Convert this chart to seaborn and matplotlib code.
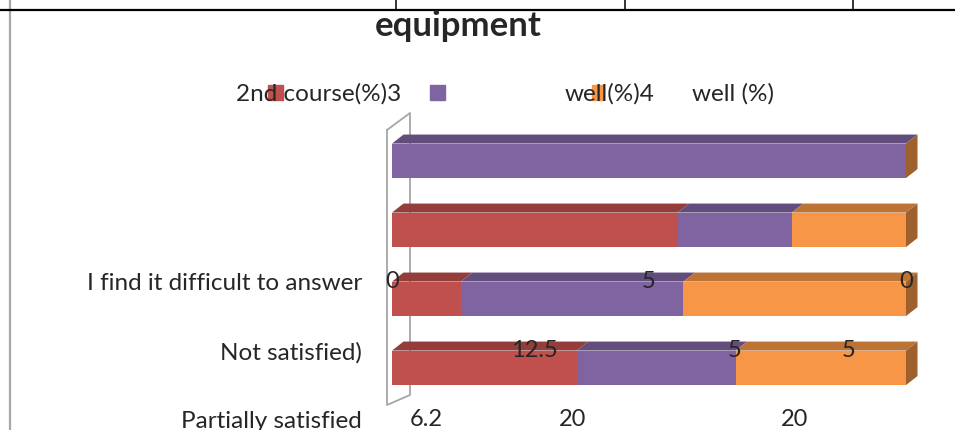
import matplotlib
matplotlib.use("Agg")
import matplotlib.pyplot as plt
from matplotlib.patches import Polygon, Rectangle
import pandas as pd
import seaborn as sns

# data (top bar first)
categories = ["I find it difficult to answer", "Not satisfied)", "Partially satisfied", "Satisfied"]
series_red = [0, 12.5, 6.2, 81.3]
series_purple = [5, 5, 20, 70]
series_orange = [0, 5, 20, 75]
legend_labels = ["2nd course(%)3", "well(%)4", "well (%)"]
title = "equipment"

RED, PURPLE, ORANGE = "#C0504D", "#8064A2", "#F79646"
RED_TOP, PURPLE_TOP, ORANGE_TOP = "#943D3B", "#634D7D", "#BE7336"
ORANGE_SIDE = "#9E602D"

sns.set_style("white")
plt.rcParams["font.family"] = ["Lato", "DejaVu Sans"]

W, H = 955, 430
fig = plt.figure(figsize=(W / 100, H / 100), dpi=100)

# background layer in pixel coords: table borders, chart wall, title, legend
bg = fig.add_axes([0, 0, 1, 1], zorder=0)
bg.set_xlim(0, W)
bg.set_ylim(H, 0)
bg.axis("off")

bg.plot([9.5, 9.5], [0, H], color="#A6A6A6", lw=1.6, clip_on=False)
bg.plot([0, W], [10, 10], color="black", lw=1.6, clip_on=False)
for xv in [396, 625, 853]:
    bg.plot([xv, xv], [0, 10], color="black", lw=1.1, clip_on=False)

# 3d wall on the left
bg.plot([387, 387, 410, 410, 387], [130, 405, 395, 113, 130], color="#A6A6A6", lw=1.3)

bg.text(458.5, 36, title, ha="center", va="baseline", fontsize=25, fontweight="bold")

bg.add_patch(Rectangle((268, 85), 15, 15, color=RED, zorder=1))
bg.add_patch(Rectangle((430, 85), 15, 15, color=PURPLE, zorder=1))
bg.add_patch(Rectangle((592, 85), 11, 15, color=ORANGE, zorder=1))
bg.text(236, 101, legend_labels[0], ha="left", va="baseline", fontsize=17.5, zorder=2)
bg.text(565, 101, legend_labels[1], ha="left", va="baseline", fontsize=17.5, zorder=2)
bg.text(692, 101, legend_labels[2], ha="left", va="baseline", fontsize=17.5, zorder=2)

# bars
df = pd.DataFrame({"red": series_red, "purple": series_purple, "orange": series_orange},
                  index=categories)
share = df.div(df.sum(axis=1), axis=0) * 100
cum = share.cumsum(axis=1)

ax = fig.add_axes([392 / W, 0, 514 / W, 320 / H], zorder=1)
ax.patch.set_alpha(0)

for col, color in [("orange", ORANGE), ("purple", PURPLE), ("red", RED)]:
    sns.barplot(x=cum[col].values, y=categories, orient="h", color=color, saturation=1,
                width=0.5, linewidth=0, errorbar=None, ax=ax)

unit_px = 69
dx = 11.5 / 5.14
dy = -9 / unit_px

# fake depth: top faces and the right side
tops = {"red": RED_TOP, "purple": PURPLE_TOP, "orange": ORANGE_TOP}
for i, cat in enumerate(categories):
    ytop, ybot = i - 0.25, i + 0.25
    left = 0
    for col in ["red", "purple", "orange"]:
        right = cum.loc[cat, col]
        if right > left:
            ax.add_patch(Polygon([(left, ytop), (right, ytop), (right + dx, ytop + dy),
                                  (left + dx, ytop + dy)], closed=True, color=tops[col],
                                 lw=0, clip_on=False))
        left = right
    ax.add_patch(Polygon([(100, ytop), (100 + dx, ytop + dy), (100 + dx, ybot + dy),
                          (100, ybot)], closed=True, color=ORANGE_SIDE, lw=0, clip_on=False))

# data labels and category labels sit two rows lower, as in the source picture
label_rows = [i + 2 - 0.25 for i in range(len(categories))]
for i, cat in enumerate(categories):
    left = 0
    for col in ["red", "purple", "orange"]:
        right = cum.loc[cat, col]
        val = df.loc[cat, col]
        ax.text((left + right) / 2, label_rows[i], f"{val:g}", ha="center", va="center",
                fontsize=17, clip_on=False)
        left = right

ax.set_yticks(label_rows)
ax.set_yticklabels(categories)
ax.tick_params(axis="y", length=0, pad=21.6, labelsize=17.5)
ax.set_xticks([])
ax.set_xlabel("")
ax.set_ylabel("")
for sp in ax.spines.values():
    sp.set_visible(False)

# limits last, set_yticks would widen them
ax.set_xlim(0, 100)
ax.set_ylim((H - 160.8) / unit_px, -(160.8 - 110) / unit_px)

fig.savefig("out.png", dpi=100)
